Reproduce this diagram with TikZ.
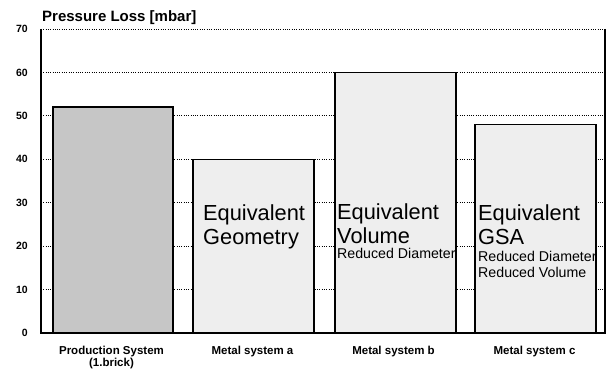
\documentclass[tikz,border=0pt]{standalone}
\usepackage{fontspec}
\setmainfont{Liberation Sans}
\usepackage{xcolor}
\usepackage{tikz}
\definecolor{prodgray}{HTML}{C6C6C6}
\definecolor{metalgray}{HTML}{EEEEEE}
\tikzset{
  frameline/.style={draw=black, line width=1.5pt},
  gridline/.style={draw=black, line width=0.9pt, dash pattern=on 1pt off 1.3pt},
  prodbar/.style={fill=prodgray, draw=black, line width=1.4pt},
  metalbar/.style={fill=metalgray, draw=black, line width=1.4pt},
  ticklab/.style={font=\fontsize{10.5}{12}\selectfont\bfseries, anchor=east, inner sep=0pt},
  catlab/.style={font=\fontsize{11.5}{12}\selectfont\bfseries, align=center, anchor=base, inner sep=0pt},
  titlelab/.style={font=\fontsize{15}{17}\selectfont\bfseries, anchor=base west, inner sep=0pt},
  bigtxt/.style={font=\fontsize{21.8}{24}\selectfont, align=left, anchor=base west, inner sep=0pt},
  smalltxt/.style={font=\fontsize{14.2}{16}\selectfont, align=left, anchor=base west, inner sep=0pt},
}

\begin{document}
\begin{tikzpicture}[x=1pt,y=1pt]
  \useasboundingbox (0,0) rectangle (607,372);
  \begin{scope}[shift={(41,39)}, y=4.343pt]
    \foreach \v in {10,20,...,70} {
      \draw[gridline] (0,\v) -- (564,\v);
      \node[ticklab] (tick\v) at (-13,\v) {\v};
    }
    \node[ticklab] (tick0) at (-13,0) {0};
    \draw[prodbar] (12,0) rectangle (132,52);
    \draw[metalbar] (152,0) rectangle (273,40);
    \draw[metalbar] (294,0) rectangle (415,60);
    \draw[metalbar] (434,0) rectangle (555,48);
    \draw[frameline] (0,70) -- (0,0) -- (564,0) -- (564,70);
  \end{scope}
  \node[titlelab] (title) at (42,350) {Pressure Loss [mbar]};
  \node[catlab] (catprod) at (111.5,6) {Production System\\(1.brick)};
  \node[catlab] (cata) at (252.5,18) {Metal system a};
  \node[catlab] (catb) at (393.5,18) {Metal system b};
  \node[catlab] (catc) at (534.5,18) {Metal system c};
  \node[bigtxt] (texta) at (203,127) {Equivalent\\Geometry};
  \node[bigtxt] (textb) at (337,128) {Equivalent\\Volume};
  \node[smalltxt] (noteb) at (337,113) {Reduced Diameter};
  \node[bigtxt] (textc) at (478,127) {Equivalent\\GSA};
  \node[smalltxt] (notec) at (478,94) {Reduced Diameter\\Reduced Volume};
\end{tikzpicture}
\end{document}
